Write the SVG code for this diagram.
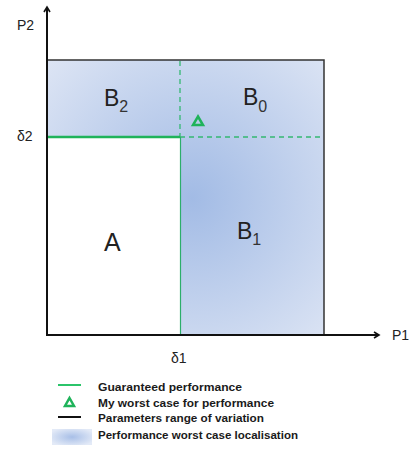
<svg xmlns="http://www.w3.org/2000/svg" width="414" height="449" viewBox="0 0 414 449">
<style>
.lbl{font-family:"Liberation Sans",Arial,sans-serif;fill:#222;}
.axl{font-size:14px;}
.big{font-size:23px;}
.sub{font-size:16px;fill:#333;}
.leg{font-family:"Liberation Sans",Arial,sans-serif;font-size:10.5px;font-weight:bold;fill:#1a1a1a;}
.axis{stroke:#111;stroke-width:2;fill:none;}
.green{stroke:#1fb35a;stroke-width:2.5;fill:none;}
.gdash{stroke:#35b872;stroke-width:1.3;stroke-dasharray:5,4;fill:none;}
.tri{fill:none;stroke:#1fb35a;stroke-width:2.5;stroke-linejoin:miter;}
</style>
<defs>
<radialGradient id="wc" gradientUnits="userSpaceOnUse" cx="192" cy="198" r="210">
<stop offset="0" stop-color="#a2bbe5"/>
<stop offset="1" stop-color="#e0e7f5"/>
</radialGradient>
<radialGradient id="wcl" cx="0.5" cy="0.5" r="0.6">
<stop offset="0" stop-color="#a8bfe7"/>
<stop offset="1" stop-color="#e3eaf7"/>
</radialGradient>
<marker id="arr" markerWidth="8" markerHeight="8" refX="6" refY="4" orient="auto" markerUnits="userSpaceOnUse">
<path d="M1,1 L6,4 L1,7" fill="none" stroke="#111" stroke-width="1.6"/>
</marker>
</defs>
<g id="regions">
<path id="region-shaded" d="M48,60 H324 V335 H180 V137 H48 Z" fill="url(#wc)"/>
<rect id="region-A" x="48" y="137" width="132" height="198" fill="#ffffff"/>
</g>
<g id="connectors">
<path d="M48,60 H324 V335" fill="none" stroke="#333" stroke-width="1.5"/>
<line class="gdash" x1="180" y1="61" x2="180" y2="137"/>
<line class="gdash" x1="180" y1="137" x2="322" y2="137"/>
<line x1="180.5" y1="137" x2="180.5" y2="335" stroke="#2cae6a" stroke-width="1.2"/>
<line class="green" x1="48" y1="137" x2="180" y2="137"/>
<line class="axis" x1="47" y1="336" x2="47" y2="7" marker-end="url(#arr)"/>
<line class="axis" x1="46" y1="335" x2="379" y2="335" marker-end="url(#arr)"/>
</g>
<g id="node-B2"><text class="lbl big" x="104" y="106">B<tspan class="sub" dy="6">2</tspan></text></g>
<g id="node-B0"><text class="lbl big" x="243" y="105">B<tspan class="sub" dy="7">0</tspan></text></g>
<g id="node-B1"><text class="lbl big" x="237" y="239">B<tspan class="sub" dy="6">1</tspan></text></g>
<g id="node-A"><text class="lbl" x="104" y="251" style="font-size:25px">A</text></g>
<g id="node-worst"><path class="tri" d="M198,116.5 L203,125 L193,125 Z"/></g>
<g id="axis-labels">
<text class="lbl axl" x="17" y="30">P2</text>
<text class="lbl axl" x="17" y="141">δ2</text>
<text class="lbl axl" x="392" y="340">P1</text>
<text class="lbl axl" x="171" y="363">δ1</text>
</g>
<g id="legend">
<line x1="58" y1="385" x2="81" y2="385" stroke="#2bc46a" stroke-width="2"/>
<path class="tri" d="M69.5,398 L74,406 L65,406 Z"/>
<line x1="58" y1="417" x2="81" y2="417" stroke="#111" stroke-width="2"/>
<rect x="52" y="429" width="40" height="16" fill="url(#wcl)"/>
<text class="leg" x="98" y="391" textLength="144" lengthAdjust="spacingAndGlyphs">Guaranteed performance</text>
<text class="leg" x="98" y="407" textLength="176" lengthAdjust="spacingAndGlyphs">My worst case for performance</text>
<text class="leg" x="98" y="422" textLength="166" lengthAdjust="spacingAndGlyphs">Parameters range of variation</text>
<text class="leg" x="98" y="439" textLength="200" lengthAdjust="spacingAndGlyphs">Performance worst case localisation</text>
</g>
</svg>
